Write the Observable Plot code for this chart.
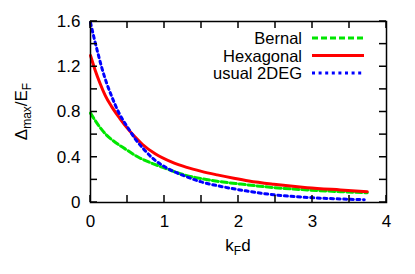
<!DOCTYPE html>
<html><head><meta charset="utf-8">
<script src="https://cdn.jsdelivr.net/npm/d3@7"></script>
<script src="https://cdn.jsdelivr.net/npm/@observablehq/plot@0.6"></script>
<style>
body{margin:0;background:#fff}
svg{font-family:"Liberation Sans",Arial,Helvetica,sans-serif}
</style>
</head><body><div id="chart"></div>
<script>
// Bernal (green dashed)
const bernalX = [0, 0.108, 0.221, 0.333, 0.468, 0.649, 0.829, 1.02, 1.261, 1.486, 1.712, 2.027, 2.477, 2.928, 3.378, 3.74];
const bernalY = [0.79, 0.682, 0.593, 0.533, 0.474, 0.40, 0.347, 0.30, 0.245, 0.212, 0.188, 0.163, 0.132, 0.111, 0.096, 0.086];
// Hexagonal (red solid)
const hexX = [0, 0.063, 0.131, 0.2, 0.288, 0.4, 0.5, 0.6, 0.7, 0.874, 1.1, 1.3, 1.5, 1.712, 1.937, 2.14, 2.477, 2.928, 3.378, 3.74];
const hexY = [1.30, 1.17, 1.05, 0.945, 0.845, 0.74, 0.655, 0.58, 0.515, 0.43, 0.356, 0.31, 0.275, 0.244, 0.214, 0.19, 0.161, 0.131, 0.111, 0.096];
// usual 2DEG (blue dotted)
const degX = [0, 0.05, 0.1, 0.153, 0.221, 0.288, 0.378, 0.514, 0.604, 0.716, 0.851, 0.986, 1.099, 1.261, 1.486, 1.712, 2.1, 2.477, 2.928, 3.378, 3.7];
const degY = [1.59, 1.45, 1.32, 1.19, 1.05, 0.935, 0.80, 0.652, 0.563, 0.474, 0.385, 0.322, 0.282, 0.237, 0.184, 0.149, 0.103, 0.068, 0.045, 0.031, 0.025];

const seriesNames = ["Bernal", "Hexagonal", "usual 2DEG"];
const seriesColors = ["#00e600", "#ff0000", "#0000ff"];
const seriesDash = ["6,3", null, "3,3.6"];

const xLabelTicks = [0, 1, 2, 3, 4];
const xAllTicks = [0, 0.5, 1, 1.5, 2, 2.5, 3, 3.5, 4];
const yLabelTicks = [0, 0.4, 0.8, 1.2, 1.6];
const yAllTicks = [0, 0.2, 0.4, 0.6, 0.8, 1.0, 1.2, 1.4, 1.6];

const W = 415, H = 274, mL = 90, mR = 29, mT = 21, mB = 72, tickPx = 7;
const xDom = [0, 4], yDom = [0, 1.6];

const toRows = (xs, ys) => xs.map((x, i) => ({x, y: ys[i]}));
const data = [toRows(bernalX, bernalY), toRows(hexX, hexY), toRows(degX, degY)];

const lineMarks = data.map((rows, i) => Plot.line(rows, {
  x: "x", y: "y", stroke: seriesColors[i], strokeWidth: 3,
  strokeDasharray: seriesDash[i], curve: "monotone-x"
}));

const chart = Plot.plot({
  width: W, height: H,
  marginLeft: mL, marginRight: mR, marginTop: mT, marginBottom: mB,
  style: {fontSize: "17px", fontFamily: "'Liberation Sans', Arial, sans-serif", background: "#fff", color: "#000"},
  x: {domain: xDom, label: null},
  y: {domain: yDom, label: null},
  marks: [
    ...lineMarks,
    Plot.frame({stroke: "#000", strokeWidth: 1.5}),
    Plot.axisX({anchor: "bottom", ticks: xLabelTicks, tickSize: 0, tickPadding: 12, tickFormat: d => String(d), label: null}),
    Plot.axisY({anchor: "left", ticks: yLabelTicks, tickSize: 0, tickPadding: 10, tickFormat: d => String(d), label: null})
  ]
});
document.getElementById("chart").appendChild(chart);

const svg = d3.select(chart);
const sx = chart.scale("x"), sy = chart.scale("y");
const px = v => +sx.apply(v), py = v => +sy.apply(v);
const x0 = px(xDom[0]), x1 = px(xDom[1]), y0 = py(yDom[0]), y1 = py(yDom[1]);

// Inward ticks on all four sides (mirrored), positioned by Plot's scales
const tickSegs = [];
xAllTicks.forEach(v => {
  tickSegs.push([px(v), y0, px(v), y0 - tickPx]);
  tickSegs.push([px(v), y1, px(v), y1 + tickPx]);
});
yAllTicks.forEach(v => {
  tickSegs.push([x0, py(v), x0 + tickPx, py(v)]);
  tickSegs.push([x1, py(v), x1 - tickPx, py(v)]);
});
svg.append("g").selectAll("path").data(tickSegs).join("path")
  .attr("d", s => `M${s[0]},${s[1]}L${s[2]},${s[3]}`)
  .attr("stroke", "#000").attr("stroke-width", 1.5).attr("fill", "none");

// Axis titles
const xt = svg.append("text").attr("x", (x0 + x1) / 2).attr("y", 251).attr("text-anchor", "middle")
  .attr("font-size", 17).attr("fill", "#000");
xt.append("tspan").text("k");
xt.append("tspan").attr("font-size", 12).attr("dy", 4).text("F");
xt.append("tspan").attr("dy", -4).text("d");

const yt = svg.append("text").attr("transform", `translate(27,${(y0 + y1) / 2}) rotate(-90)`).attr("text-anchor", "middle")
  .attr("font-size", 17).attr("fill", "#000");
yt.append("tspan").text("Δ");
yt.append("tspan").attr("font-size", 12).attr("dy", 4).text("max");
yt.append("tspan").attr("dy", -4).text("/E");
yt.append("tspan").attr("font-size", 12).attr("dy", 4).text("F");

// Legend
const legY = [38, 55.5, 73];
seriesNames.forEach((name, i) => {
  svg.append("text").attr("x", 302).attr("y", legY[i] + 6).attr("text-anchor", "end")
    .attr("font-size", 16.5).attr("fill", "#000").text(name);
  svg.append("path").attr("d", `M312,${legY[i]}H364`)
    .attr("stroke", seriesColors[i]).attr("stroke-width", 3).attr("fill", "none")
    .attr("stroke-dasharray", seriesDash[i]);
});
</script>
</body></html>
